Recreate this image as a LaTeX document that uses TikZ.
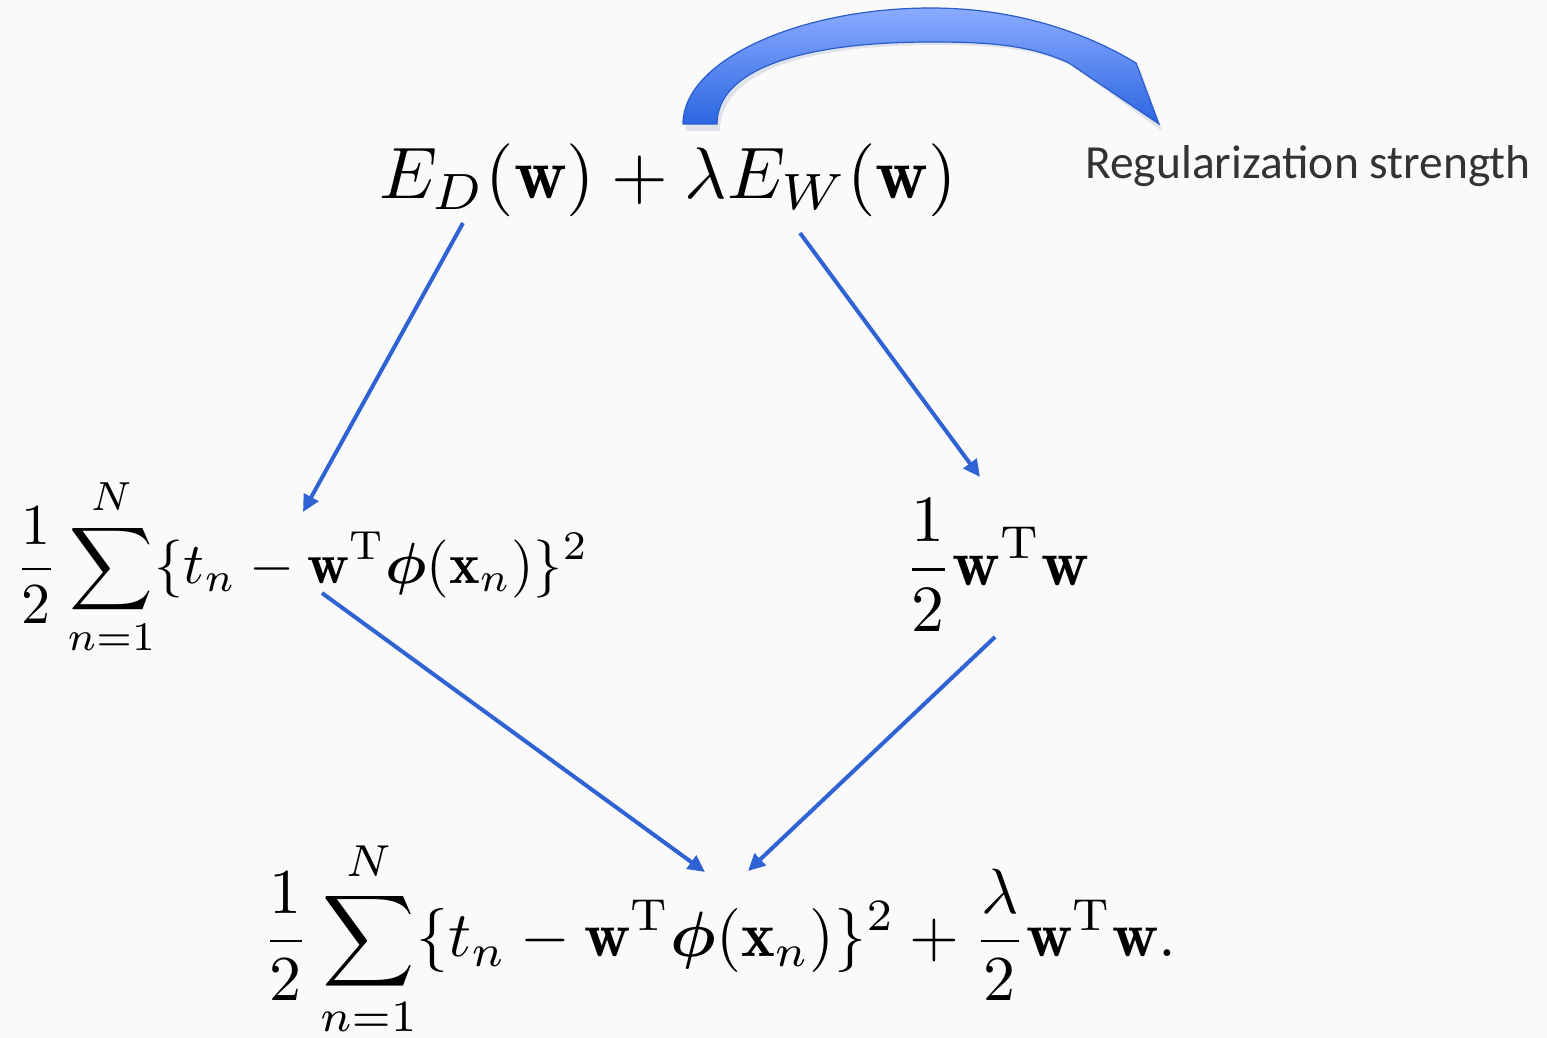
\documentclass[tikz,border=0pt]{standalone}
\usepackage{amsmath}
\usepackage{bm}
\usepackage{fontspec}
\newfontfamily\calfont{Carlito}
\usetikzlibrary{arrows.meta}
\definecolor{bgc}{HTML}{FAFAFA}
\definecolor{arrowblue}{HTML}{2F62D3}
\definecolor{bandtop}{HTML}{8AABFF}
\definecolor{bandbot}{HTML}{2B66E0}
\definecolor{bandedge}{HTML}{2A5CCB}
\definecolor{txtgrey}{HTML}{333333}
\tikzset{
  formula/.style={inner sep=0pt, outer sep=0pt, text=black},
  link/.style={draw=arrowblue, line width=4pt, -{Triangle[length=17pt,width=16pt]}},
}
\begin{document}
\begin{tikzpicture}[x=1pt,y=-1pt]
\useasboundingbox[fill=bgc] (0,0) rectangle (1547,1038);
% curved block arrow
\fill[bandedge!60!black, opacity=0.12] (686,131) .. controls (686,63) and (803,11) .. (934,11)
   .. controls (1023,11) and (1093,38) .. (1139,66) -- (1162,131) -- (1072,66)
   .. controls (1033,48) and (993,45) .. (934,45)
   .. controls (803,45) and (720,73) .. (720,131) -- cycle;
\shade[top color=bandtop, bottom color=bandbot, draw=bandedge, line width=1.2pt]
   (683,124) .. controls (683,60) and (800,8) .. (931,8)
   .. controls (1020,8) and (1090,35) .. (1136,63) -- (1159,124) -- (1069,63)
   .. controls (1030,45) and (990,42) .. (931,42)
   .. controls (800,42) and (717,70) .. (717,124) -- cycle;
% formulas
\node[formula, scale=7.3] (top) at (668,180) {$E_D(\mathbf{w}) + \lambda E_W(\mathbf{w})$};
\node[formula, scale=5.8, anchor=west] (left) at (15,567) {$\displaystyle \frac{1}{2}\sum_{n=1}^{N}\{t_n - \mathbf{w}^{\mathrm{T}}\bm{\phi}(\mathbf{x}_n)\}^2$};
\node[formula, scale=6.6, anchor=west] (right) at (904,565) {$\displaystyle \frac{1}{2}\mathbf{w}^{\mathrm{T}}\mathbf{w}$};
\node[formula, scale=6.4, anchor=west] (bottom) at (262,939) {$\displaystyle \frac{1}{2}\sum_{n=1}^{N}\{t_n - \mathbf{w}^{\mathrm{T}}\bm{\phi}(\mathbf{x}_n)\}^2 + \frac{\lambda}{2}\mathbf{w}^{\mathrm{T}}\mathbf{w}.$};
\node[anchor=base west, inner sep=0pt, text=txtgrey, font=\calfont\fontsize{47.5}{52}\selectfont] (reg) at (1085,178) {Regularization strength};
% connectors
\coordinate (a1s) at (463,223); \coordinate (a1e) at (303,512);
\coordinate (a2s) at (800,233); \coordinate (a2e) at (980,477);
\coordinate (a3s) at (322,593); \coordinate (a3e) at (705,872);
\coordinate (a4s) at (995,637); \coordinate (a4e) at (748,871);
\draw[link] (a1s) -- (a1e);
\draw[link] (a2s) -- (a2e);
\draw[link] (a3s) -- (a3e);
\draw[link] (a4s) -- (a4e);
\end{tikzpicture}
\end{document}
